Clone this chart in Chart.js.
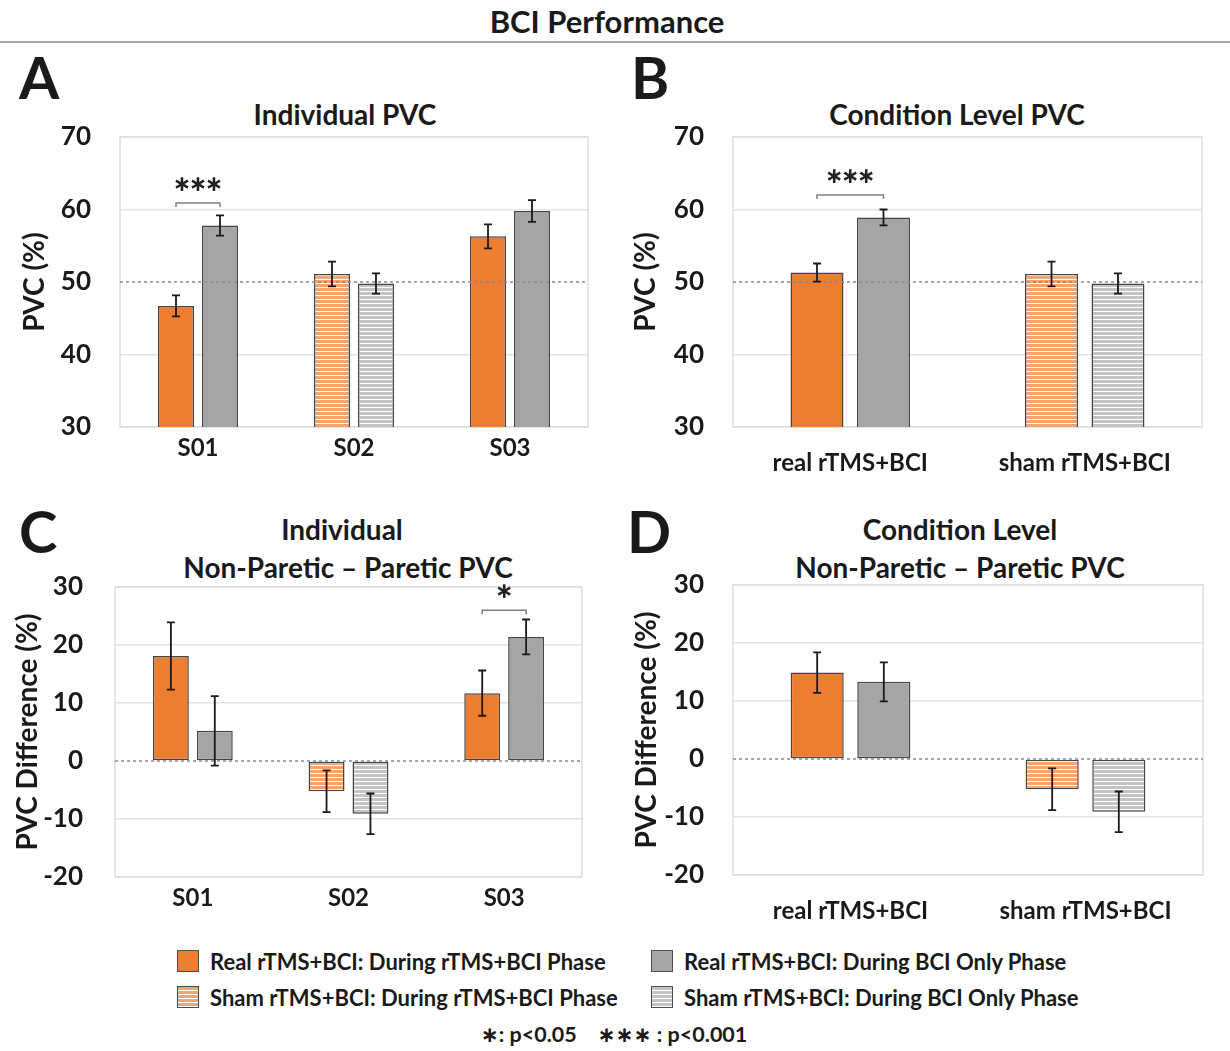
<!DOCTYPE html>
<html>
<head>
<meta charset="utf-8">
<script src="https://cdn.jsdelivr.net/npm/chart.js@4.4.0/dist/chart.umd.min.js"></script>
<style>
  html, body { margin:0; padding:0; background:#fff; }
  body { width:1230px; height:1051px; position:relative; overflow:hidden; font-family: Lato, "Noto Sans", sans-serif; color:#1a1a1a; }
  .t { position:absolute; white-space:nowrap; font-weight:700; transform:translate(-50%,-50%); line-height:1; }
  .letter { position:absolute; font-weight:700; font-size:58px; line-height:1; }
  canvas { position:absolute; }
  .sw { position:absolute; width:22px; height:22px; border:1.5px solid #4d4d4d; box-sizing:border-box; }
  .lg { position:absolute; white-space:nowrap; font-weight:700; font-size:22px; line-height:1; transform:translateY(-50%); }
</style>
</head>
<body>
<div class="t" style="left:607px; top:21px; font-size:31px;">BCI Performance</div>
<div style="position:absolute; left:0; top:41px; width:1230px; height:2px; background:#a6a6a6;"></div>

<div class="letter" style="left:19px; top:48px;">A</div>
<div class="letter" style="left:631px; top:48px;">B</div>
<div class="letter" style="left:19px; top:502px;">C</div>
<div class="letter" style="left:627px; top:502px;">D</div>

<div class="t" style="left:345px; top:114px; font-size:28px;">Individual PVC</div>
<div class="t" style="left:957px; top:114px; font-size:28px;">Condition Level PVC</div>
<div class="t" style="left:342px; top:529px; font-size:28px;">Individual</div>
<div class="t" style="left:348px; top:567px; font-size:28px;">Non-Paretic – Paretic PVC</div>
<div class="t" style="left:960px; top:529px; font-size:28px;">Condition Level</div>
<div class="t" style="left:960px; top:567px; font-size:28px;">Non-Paretic – Paretic PVC</div>

<canvas id="cA" width="600" height="360" style="left:0px; top:120px;"></canvas>
<canvas id="cB" width="630" height="370" style="left:600px; top:120px;"></canvas>
<canvas id="cC" width="600" height="340" style="left:0px; top:570px;"></canvas>
<canvas id="cD" width="630" height="370" style="left:600px; top:570px;"></canvas>

<div class="sw" style="left:177px; top:950px; background:#ED7D31;"></div>
<div class="lg" style="left:210px; top:962px;">Real rTMS+BCI: During rTMS+BCI Phase</div>
<div class="sw" style="left:651px; top:950px; background:#A5A5A5;"></div>
<div class="lg" style="left:684px; top:962px;">Real rTMS+BCI: During BCI Only Phase</div>
<div class="sw" style="left:177px; top:986px; background:repeating-linear-gradient(to bottom,#F4A46E 0px,#F4A46E 3px,#fff 3px,#fff 4px);"></div>
<div class="lg" style="left:210px; top:998px;">Sham rTMS+BCI: During rTMS+BCI Phase</div>
<div class="sw" style="left:651px; top:986px; background:repeating-linear-gradient(to bottom,#C4C4C4 0px,#C4C4C4 3px,#fff 3px,#fff 4px);"></div>
<div class="lg" style="left:684px; top:998px;">Sham rTMS+BCI: During BCI Only Phase</div>
<div class="t" style="left:614px; top:1035px; font-size:21.5px;"><span style="font-family:'DejaVu Sans';">∗</span>: p&lt;0.05&nbsp;&nbsp;&nbsp;&nbsp;<span style="font-family:'DejaVu Sans';">∗∗∗</span> : p&lt;0.001</div>

<script>
// ---------- DATA ----------
const subjects = ['S01', 'S02', 'S03'];
const conditions = ['real rTMS+BCI', 'sham rTMS+BCI'];
const subjectIsSham = [false, true, false];
const conditionIsSham = [false, true];

// Individual PVC (%)
const pvcStim = [46.7, 51.1, 56.3];
const pvcStimErr = [1.45, 1.7, 1.65];
const pvcBci = [57.8, 49.8, 59.8];
const pvcBciErr = [1.4, 1.4, 1.5];

// Condition level PVC (%)
const condStim = [51.3, 51.1];
const condStimErr = [1.25, 1.7];
const condBci = [58.9, 49.8];
const condBciErr = [1.1, 1.4];

// Individual Non-Paretic - Paretic PVC difference (%)
const diffStim = [18.1, -5.2, 11.7];
const diffStimErr = [5.8, 3.6, 3.9];
const diffBci = [5.2, -9.1, 21.4];
const diffBciErr = [6.0, 3.5, 3.0];

// Condition level difference (%)
const condDiffStim = [14.9, -5.2];
const condDiffStimErr = [3.5, 3.6];
const condDiffBci = [13.3, -9.1];
const condDiffBciErr = [3.35, 3.5];

// Axis tick ranges
const pvcTicks = [30, 70];
const diffTicks = [-20, 30];

// significance annotations: category index, bracket height (value units), number of stars
const sigA = [{ cat: 0, y: 60.9, stars: 3 }];
const sigB = [{ cat: 0, y: 62.0, stars: 3 }];
const sigC = [{ cat: 2, y: 26.0, stars: 1 }];

// ---------- STYLE ----------
const ORANGE = '#ED7D31', GRAY = '#A5A5A5';
function stripe(color) {
  const c = document.createElement('canvas');
  c.width = 4; c.height = 4;
  const x = c.getContext('2d');
  x.fillStyle = '#ffffff'; x.fillRect(0, 0, 4, 4);
  x.fillStyle = color; x.fillRect(0, 0, 4, 3);
  return x.createPattern(c, 'repeat');
}
const ORANGE_STRIPE = stripe('#F4A46E');
const GRAY_STRIPE = stripe('#C4C4C4');
const FONT = 'Lato, "Noto Sans", sans-serif';

const framePlugin = {
  id: 'frame',
  beforeDatasetsDraw(chart) {
    const { ctx, chartArea: a } = chart;
    ctx.save();
    ctx.strokeStyle = '#dedede';
    ctx.lineWidth = 1.5;
    ctx.strokeRect(a.left, a.top, a.right - a.left, a.bottom - a.top);
    ctx.restore();
  },
  afterDatasetsDraw(chart, args, opts) {
    const { ctx, chartArea: a, scales } = chart;
    const y = scales.y.getPixelForValue(opts.refLine);
    ctx.save();
    ctx.strokeStyle = '#8a8a8a';
    ctx.lineWidth = 1.5;
    ctx.setLineDash([3, 3]);
    ctx.beginPath(); ctx.moveTo(a.left, y); ctx.lineTo(a.right, y); ctx.stroke();
    ctx.setLineDash([]);
    // error bars
    ctx.strokeStyle = '#1a1a1a';
    ctx.lineWidth = 1.8;
    chart.data.datasets.forEach((ds, di) => {
      const meta = chart.getDatasetMeta(di);
      meta.data.forEach((bar, i) => {
        const v = ds.data[i], e = ds.errors[i];
        const y1 = scales.y.getPixelForValue(v + e);
        const y2 = scales.y.getPixelForValue(v - e);
        const x = bar.x;
        ctx.beginPath();
        ctx.moveTo(x, y1); ctx.lineTo(x, y2);
        ctx.moveTo(x - 4, y1); ctx.lineTo(x + 4, y1);
        ctx.moveTo(x - 4, y2); ctx.lineTo(x + 4, y2);
        ctx.stroke();
      });
    });
    // significance brackets
    (opts.sig || []).forEach(s => {
      const x1 = chart.getDatasetMeta(0).data[s.cat].x;
      const x2 = chart.getDatasetMeta(1).data[s.cat].x;
      const yb = scales.y.getPixelForValue(s.y);
      ctx.strokeStyle = '#7f7f7f';
      ctx.lineWidth = 1.5;
      ctx.beginPath();
      ctx.moveTo(x1, yb + 4); ctx.lineTo(x1, yb); ctx.lineTo(x2, yb); ctx.lineTo(x2, yb + 4);
      ctx.stroke();
      ctx.fillStyle = '#222';
      ctx.font = 'bold 22px "DejaVu Sans"';
      ctx.textAlign = 'center';
      ctx.textBaseline = 'middle';
      const cx = (x1 + x2) / 2, gap = 16;
      for (let k = 0; k < s.stars; k++) {
        ctx.fillText('∗', cx + (k - (s.stars - 1) / 2) * gap, yb - 18);
      }
    });
    ctx.restore();
  }
};

function makeChart(id, cfg) {
  const fillFor = (shamArr, solid, pat) => shamArr.map(s => s ? pat : solid);
  const noPad = s => { s.paddingTop = 0; s.paddingBottom = 0; s.paddingLeft = 0; s.paddingRight = 0; };
  return new Chart(document.getElementById(id), {
    type: 'bar',
    data: {
      labels: cfg.labels,
      datasets: [
        { label: 'During rTMS+BCI Phase', data: cfg.a, errors: cfg.ae,
          backgroundColor: fillFor(cfg.sham, ORANGE, ORANGE_STRIPE) },
        { label: 'During BCI Only Phase', data: cfg.b, errors: cfg.be,
          backgroundColor: fillFor(cfg.sham, GRAY, GRAY_STRIPE) }
      ]
    },
    options: {
      responsive: false,
      animation: false,
      layout: { padding: { top: cfg.padTop, right: cfg.padRight, left: 0, bottom: 0 } },
      datasets: { bar: {
        borderColor: '#454545', borderWidth: 1.5, borderSkipped: false,
        categoryPercentage: cfg.catPct, barPercentage: cfg.barPct
      } },
      plugins: {
        legend: { display: false },
        tooltip: { enabled: false },
        frame: { refLine: cfg.ref, sig: cfg.sig }
      },
      scales: {
        x: {
          grid: { display: false, drawTicks: false },
          border: { display: false },
          ticks: { font: { family: FONT, size: 24, weight: 'bold' }, color: '#1a1a1a', padding: cfg.xPad },
          afterFit: s => { s.height = cfg.xH; noPad(s); }
        },
        y: {
          min: cfg.range[0], max: cfg.range[1],
          grid: {
            drawTicks: false, lineWidth: 1.5,
            color: c => (c.tick && c.tick.value === cfg.ref) ? 'rgba(0,0,0,0)' : '#e3e3e3'
          },
          border: { display: false },
          ticks: { stepSize: 10, font: { family: FONT, size: 26, weight: 'bold' }, color: '#1a1a1a', padding: cfg.yPad },
          title: { display: true, text: cfg.yTitle, color: '#1a1a1a',
                   font: { family: FONT, size: 28, weight: 'bold' }, padding: { top: cfg.tPad, bottom: 0 } },
          afterFit: s => { s.width = cfg.yW; noPad(s); }
        }
      }
    },
    plugins: [framePlugin]
  });
}

makeChart('cA', { labels: subjects, sham: subjectIsSham, a: pvcStim, ae: pvcStimErr, b: pvcBci, be: pvcBciErr,
  range: pvcTicks, ref: 50, sig: sigA, yTitle: 'PVC (%)',
  padTop: 17, padRight: 12, yW: 120, xH: 53, xPad: 7, yPad: 29, tPad: 18,
  catPct: 0.564, barPct: 0.818 });

makeChart('cB', { labels: conditions, sham: conditionIsSham, a: condStim, ae: condStimErr, b: condBci, be: condBciErr,
  range: pvcTicks, ref: 50, sig: sigB, yTitle: 'PVC (%)',
  padTop: 17, padRight: 28, yW: 133, xH: 63, xPad: 22, yPad: 29, tPad: 29,
  catPct: 0.567, barPct: 0.797 });

makeChart('cC', { labels: subjects, sham: subjectIsSham, a: diffStim, ae: diffStimErr, b: diffBci, be: diffBciErr,
  range: diffTicks, ref: 0, sig: sigC, yTitle: 'PVC Difference (%)',
  padTop: 17, padRight: 18, yW: 115, xH: 33, xPad: 7, yPad: 32, tPad: 11,
  catPct: 0.564, barPct: 0.818 });

makeChart('cD', { labels: conditions, sham: conditionIsSham, a: condDiffStim, ae: condDiffStimErr, b: condDiffBci, be: condDiffBciErr,
  range: diffTicks, ref: 0, sig: [], yTitle: 'PVC Difference (%)',
  padTop: 15, padRight: 27, yW: 133, xH: 65, xPad: 22, yPad: 29, tPad: 30,
  catPct: 0.567, barPct: 0.797 });
</script>
</body>
</html>
